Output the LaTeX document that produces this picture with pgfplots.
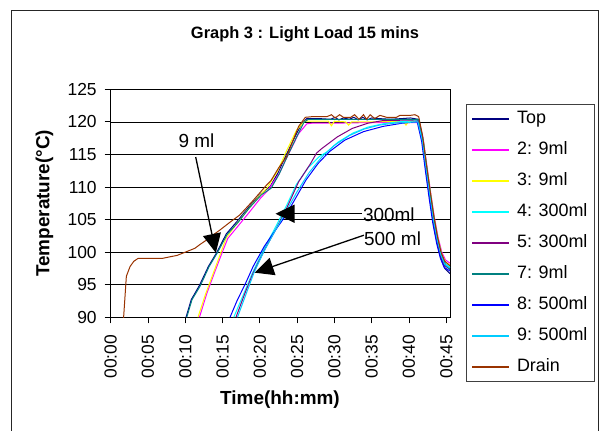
\documentclass[border=0pt]{standalone}
\usepackage{fontspec}
\setmainfont{Liberation Sans}
\usepackage{pgfplots}
\pgfplotsset{compat=1.18}
\usetikzlibrary{arrows.meta}
\definecolor{cTop}{HTML}{000080}
\definecolor{cTwo}{HTML}{FF00FF}
\definecolor{cThree}{HTML}{FFFF00}
\definecolor{cFour}{HTML}{00FFFF}
\definecolor{cFive}{HTML}{800080}
\definecolor{cSeven}{HTML}{008080}
\definecolor{cEight}{HTML}{0000FF}
\definecolor{cNine}{HTML}{00CCFF}
\definecolor{cDrain}{HTML}{993300}
\tikzset{annarrow/.style={line width=1.3bp,-{Triangle[length=19bp,width=18bp]}}}
\begin{document}
\begin{tikzpicture}
\path[use as bounding box] (-110.7bp,-113.7bp) rectangle (490.3bp,317.3bp);
\draw[line width=1bp,black!85] (-99.2bp,-130bp) -- (-99.2bp,306.3bp) -- (487.3bp,306.3bp) -- (487.3bp,-130bp);
\node[font=\fontsize{16.5}{18}\selectfont\bfseries] at (194.3bp,283.3bp) {Graph 3 : Light Load 15 mins};
\begin{axis}[
  at={(0,0)},anchor=south west,
  scale only axis,width=339.3bp,height=228bp,
  xmin=0,xmax=45.5,ymin=90,ymax=125,
  xtick={0,5,...,45},
  xticklabels={00:00,00:05,00:10,00:15,00:20,00:25,00:30,00:35,00:40,00:45},
  ytick={90,95,...,125},
  /pgf/number format/assume math mode=true,
  tick align=outside,tick pos=left,
  major tick length=6bp,
  every tick/.style={black,line width=0.8bp},
  axis line style={line width=1bp},
  ymajorgrids=true,
  grid style={black,line width=0.7bp},
  tick label style={font=\fontsize{17.5}{19}\selectfont},
  x tick label style={rotate=90,anchor=east},
  xticklabel shift=8bp,
  yticklabel shift=4.5bp,
  xlabel={\bfseries Time(hh:mm)},
  ylabel={\bfseries Temperature(°C)},
  label style={font=\fontsize{19}{21}\selectfont},
  xlabel style={at={(axis description cs:0.499,-0.363)},anchor=center},
  ylabel style={at={(axis description cs:-0.195,0.5)},anchor=center},
  every axis plot/.append style={line width=1bp},
  legend style={at={(1.047,0.9355)},anchor=north west,draw=black!75,line width=1bp,
    font=\fontsize{18}{20}\selectfont,row sep=10bp,inner xsep=5bp,inner ysep=4bp,
    nodes={text height=13bp,text depth=4bp,inner sep=2bp,anchor=west},
    /tikz/every odd column/.append style={column sep=5bp}},
  legend cell align=left,
  legend image code/.code={\draw[#1,line width=1.6bp] (0bp,0bp) -- (37bp,0bp);},
]
\addplot[cTop] coordinates {(10.1,90) (10.8,92.7) (11.9,94.9) (13.1,97.8) (14.2,99.9) (15.5,102.8) (17.0,104.8) (18.5,106.9) (20.1,108.9) (21.4,110.1) (22.4,112.1) (23.4,114.6) (24.7,117.7) (25.7,119.9) (26.3,120.5) (28,120.5) (29.5,120.4) (30.1,120.7) (30.6,120.3) (31.2,120.6) (32.0,120.4) (32.6,120.7) (33.2,120.3) (33.8,120.7) (34.4,120.3) (35,120.6) (36,120.5) (37.5,120.4) (39,120.5) (40.2,120.6) (41.2,120.4) (41.8,117) (42.3,112.3) (42.8,108.2) (43.3,104.3) (43.8,101.3) (44.3,99) (44.8,97.5) (45.5,96.7)};
\addlegendentry{Top}
\addplot[cTwo] coordinates {(11.9,90) (12.9,93.7) (13.9,96.8) (14.9,99.8) (15.7,102.1) (17.0,103.9) (18.5,106.0) (20.1,108.3) (21.1,109.5) (22.6,112.1) (23.9,115.2) (25.2,118.2) (26.3,119.7) (27,119.8) (30,119.8) (35,119.9) (41.4,119.9) (41.9,117.5) (42.4,113.3) (42.9,109.2) (43.4,105.4) (43.9,102.3) (44.4,100) (44.9,98.8) (45.5,98.3)};
\addlegendentry{2: 9ml}
\addplot[cThree] coordinates {(11.7,90) (12.7,93.5) (13.7,96.6) (14.7,99.7) (15.5,102.2) (16.8,104.2) (18.3,106.4) (20,108.7) (21,109.9) (22.4,112.5) (23.6,115.6) (24.9,118.7) (26,120.1) (27,120.1) (29.2,120.1) (29.6,119.4) (30,120.1) (31.5,120) (31.9,119.5) (32.3,120) (35,120) (39.2,120.1) (39.6,119.5) (40,120.1) (41.3,120.1) (41.9,117.3) (42.4,113) (42.9,109) (43.4,105.1) (43.9,102) (44.4,99.7) (44.9,98.5) (45.5,98)};
\addlegendentry{3: 9ml}
\addplot[cFour] coordinates {(16.5,90) (17.8,93.5) (19,96.8) (20.4,100.2) (21.9,103.4) (23.6,107.2) (24.9,110.4) (26.5,113) (28,114.7) (29,115.4) (30.5,116.9) (32.5,118.3) (34.5,119.2) (36.5,119.7) (38.5,120) (41.3,120.2) (41.9,117.2) (42.4,112.9) (42.9,108.8) (43.4,104.9) (43.9,101.8) (44.4,99.5) (44.9,98.2) (45.5,97.7)};
\addlegendentry{4: 300ml}
\addplot[cFive] coordinates {(16.8,90) (18.0,93.7) (19.1,96.8) (20.6,100.3) (22.1,103.4) (23.7,107) (25.2,110.8) (26.8,113.6) (27.6,115.2) (28.3,115.9) (30.4,117.7) (32.4,119) (34.5,119.8) (36.5,120.2) (41.2,120.3) (41.8,117.1) (42.3,112.6) (42.8,108.5) (43.3,104.6) (43.8,101.6) (44.3,99.3) (44.8,97.9) (45.5,97.4)};
\addlegendentry{5: 300ml}
\addplot[cSeven] coordinates {(10.2,90) (10.9,92.7) (12.0,94.8) (13.2,97.8) (14.3,99.9) (15.6,102.7) (17.1,104.6) (18.6,106.8) (20.2,108.8) (21.5,109.8) (22.6,112) (23.6,114.5) (24.9,117.6) (25.9,119.9) (26.5,120.4) (30,120.4) (35,120.4) (41.3,120.4) (41.9,117.2) (42.4,112.8) (42.9,108.6) (43.4,104.8) (43.9,101.7) (44.4,99.4) (44.9,98) (45.5,97.3)};
\addlegendentry{7: 9ml}
\addplot[cEight] coordinates {(16.0,90) (17.0,92.7) (18.0,95.0) (19.1,97.8) (20.6,100.9) (22.1,103.4) (23.4,105.5) (24.9,108.5) (26.2,111.1) (27.8,113.6) (29.3,115.4) (31.4,117.2) (33.9,118.5) (36.5,119.3) (39.1,119.8) (41.1,120.0) (41.7,117) (42.2,112.5) (42.7,108.3) (43.2,104.4) (43.7,101.4) (44.2,99.1) (44.7,97.7) (45.5,97.1)};
\addlegendentry{8: 500ml}
\addplot[cNine] coordinates {(17.0,90) (18.1,93.4) (19.2,96.8) (20.5,100) (22,103.2) (23.5,106.2) (25,109.3) (26.6,112.2) (28.3,114.6) (30,116.4) (32,117.9) (34,118.9) (36,119.5) (38,119.8) (41.2,120) (41.8,117.1) (42.3,112.8) (42.8,108.7) (43.3,104.8) (43.8,101.8) (44.3,99.5) (44.8,98.1) (45.5,97.6)};
\addlegendentry{9: 500ml}
\addplot[cDrain] coordinates {(1.5,86) (2.1,96.3) (2.6,97.8) (3.1,98.6) (3.7,99.06) (5,99.06) (7,99.06) (8,99.3) (8.9,99.5) (10,100) (11.3,100.6) (12,101.2) (12.9,101.9) (13.8,102.7) (14.65,103.4) (16,104.6) (17.3,105.7) (19,107.8) (20.9,110.3) (21.5,111) (22.5,112.9) (23.6,114.7) (24.4,117) (25.2,119.3) (26.1,120.7) (27,120.8) (29,120.8) (29.6,121.1) (30.1,120.6) (30.7,121.1) (31.2,120.7) (32.2,120.7) (32.7,121.1) (33.3,120.4) (33.9,121.1) (34.3,120.4) (34.8,121.1) (35.4,120.5) (36.1,121) (37,120.7) (38.3,120.7) (38.8,121) (40.2,121) (40.8,121.1) (41.3,120.8) (41.8,118) (42.3,113.8) (42.8,109.7) (43.3,105.8) (43.8,102.5) (44.3,100) (44.8,98.6) (45.5,97.9)};
\addlegendentry{Drain}
\draw[annarrow] (axis cs:11.4,114.6) -- (axis cs:14.1,99.9);
\draw[annarrow] (axis cs:33.7,105.9) -- (axis cs:22.1,105.9);
\draw[annarrow] (axis cs:33.95,102.6) -- (axis cs:19.3,96.85);
\node[font=\fontsize{19}{21}\selectfont,inner sep=0pt] at (axis cs:11.5,117.1) {9 ml};
\node[font=\fontsize{19}{21}\selectfont,inner sep=0pt] at (axis cs:37.3,105.8) {300ml};
\node[font=\fontsize{19}{21}\selectfont,inner sep=0pt] at (axis cs:37.8,102.0) {500 ml};
\end{axis}
\end{tikzpicture}
\end{document}
